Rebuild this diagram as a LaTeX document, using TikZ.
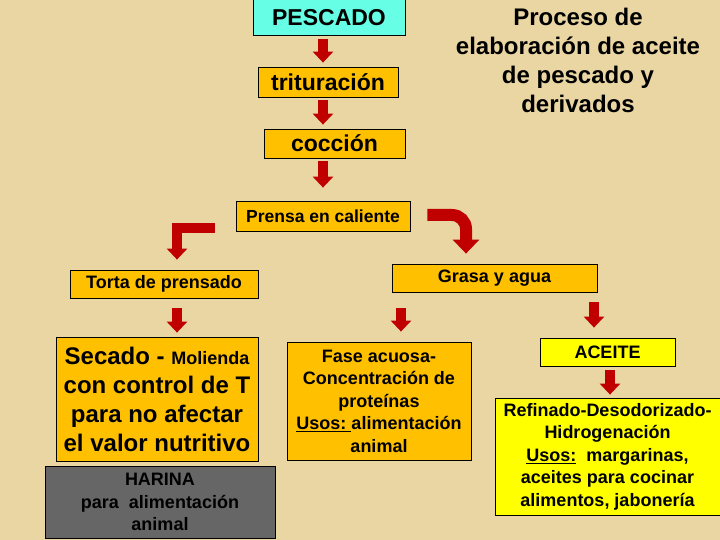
\documentclass[tikz,border=0pt]{standalone}
\usepackage{fontspec}
\setmainfont{Liberation Sans}
\usepackage{tikz}
\usetikzlibrary{arrows.meta, calc}
\usepackage{xcolor}
\definecolor{papyrus}{RGB}{234,214,163}
\definecolor{boxorange}{RGB}{255,192,0}
\definecolor{boxcyan}{RGB}{102,255,230}
\definecolor{boxyellow}{RGB}{255,255,0}
\definecolor{boxgray}{RGB}{102,102,102}
\definecolor{arrred}{RGB}{192,0,0}
\tikzset{
  bx/.style={rectangle, draw=black, fill=boxorange, align=center,
    inner sep=0pt, line width=0.8pt,
    font=\fontsize{18}{22.5}\selectfont\bfseries},
  bxBig/.style={bx, font=\fontsize{23}{27}\selectfont\bfseries},
  bxC/.style={bxBig, fill=boxcyan},
  bxY/.style={bx, fill=boxyellow},
  bxGr/.style={bx, fill=boxgray},
  rarr/.style={-{Triangle[width=20pt,length=11pt]}, line width=10pt,
    draw=arrred},
  rarrW/.style={-{Triangle[width=26pt,length=14pt]}, line width=12pt,
    draw=arrred, rounded corners=14pt},
}

\begin{document}
\begin{tikzpicture}[x=1pt, y=-1pt]
  % Background
  \fill[papyrus] (0,0) rectangle (720,540);
  \useasboundingbox (0,0) rectangle (720,540);

  % Title
  \node[font=\fontsize{24}{29}\selectfont\bfseries, align=center] (title)
       at (578,60) {Proceso de\\elaboración de aceite\\de pescado y\\derivados};

  % Main line
  \node[bxC, minimum width=152pt, minimum height=36pt] (pescado)
       at (329,17.5) {PESCADO};
  \node[bxBig, minimum width=140pt, minimum height=30pt] (tritu)
       at (328,82) {trituración};
  \node[bxBig, minimum width=141pt, minimum height=29pt] (coccion)
       at (334.5,143.5) {cocción};
  \node[bx, minimum width=174pt, minimum height=30pt,
        font=\fontsize{17.5}{21}\selectfont\bfseries] (prensa)
       at (323,216) {Prensa en caliente};

  % Solid branch
  \node[bx, minimum width=188pt, minimum height=28pt] (torta)
       at (164,284) {Torta de prensado};
  \node[bx, minimum width=202pt, minimum height=124pt,
        font=\fontsize{24}{29}\selectfont\bfseries] (secado)
       at (157,399) {Secado - {\fontsize{18}{29}\selectfont Molienda}\\
       con control de T\\para no afectar\\el valor nutritivo};
  \node[bxGr, minimum width=230pt, minimum height=72pt] (harina)
       at (160,502) {HARINA\\para~ alimentación\\animal};

  % Liquid branch
  \node[bx, minimum width=205pt, minimum height=28pt] (grasa)
       at (494.5,278) {Grasa y agua};
  \node[bx, minimum width=184pt, minimum height=118pt] (fase)
       at (379,401) {Fase acuosa-\\Concentración de\\proteínas\\
       \underline{Usos:\ }alimentación\\animal};
  \node[bxY, minimum width=135pt, minimum height=28pt] (aceite)
       at (607.5,352) {ACEITE};
  \node[bxY, minimum width=225pt, minimum height=117pt] (refinado)
       at (607.5,456.5) {Refinado-Desodorizado-\\Hidrogenación\\
       \underline{Usos:}~ margarinas,\\aceites para cocinar\\alimentos, jabonería};

  % Block arrows
  \draw[rarr] ($(pescado.south)+(-6,3)$) -- ($(pescado.south |- tritu.north)+(-6,-4)$);
  \draw[rarr] ($(tritu.south)+(-5,3)$) -- ($(tritu.south |- coccion.north)+(-5,-4)$);
  \draw[rarr] ($(coccion.south -| prensa.north)+(0,3)$) -- ($(prensa.north)+(0,-13)$);
  \draw[rarr] ($(prensa.west)+(-21,12)$) -| ($(torta.north)+(13,-10)$);
  \draw[rarrW] ($(prensa.east)+(17,-1)$) -| ($(grasa.north)+(-28.5,-10)$);
  \draw[rarr] ($(torta.south)+(13,10)$) -- ($(torta.south |- secado.north)+(13,-4)$);
  \draw[rarr] ($(grasa.south -| fase.north)+(22,16)$) -- ($(fase.north)+(22,-10)$);
  \draw[rarr] ($(grasa.south -| aceite.north)+(-13.5,10)$) -- ($(aceite.north)+(-13.5,-10)$);
  \draw[rarr] ($(aceite.south)+(2.5,4)$) -- ($(aceite.south |- refinado.north)+(2.5,-3)$);
\end{tikzpicture}
\end{document}
